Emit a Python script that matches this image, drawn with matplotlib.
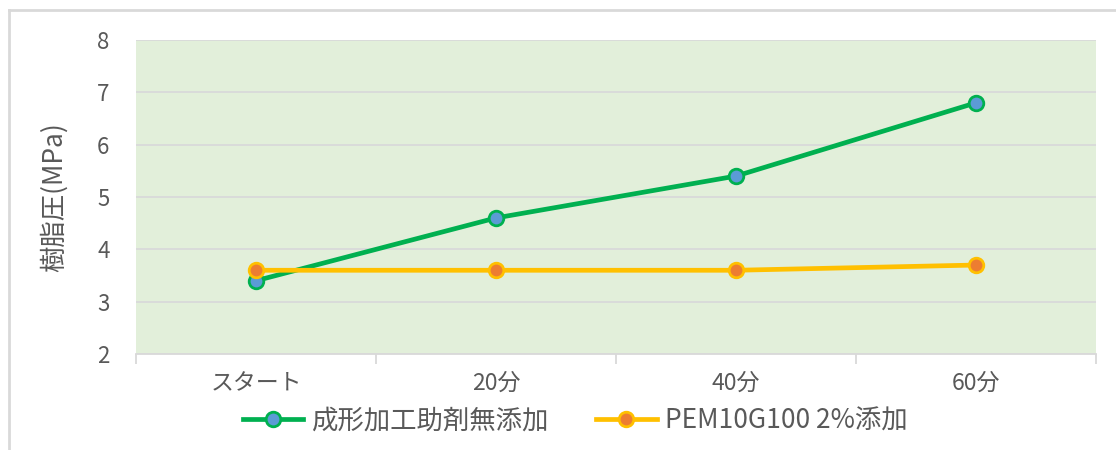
import matplotlib
matplotlib.use("Agg")
import matplotlib.pyplot as plt
from matplotlib.lines import Line2D

plt.rcParams['font.family'] = ['Noto Sans CJK JP', 'DejaVu Sans']

categories = ["スタート", "20分", "40分", "60分"]
series_names = ["成形加工助剤無添加", "PEM10G100 2%添加"]
no_additive = [3.4, 4.6, 5.4, 6.8]
pem_added = [3.6, 3.6, 3.6, 3.7]
y_label = "樹脂圧(MPa)"
y_ticks = [2, 3, 4, 5, 6, 7, 8]

text_color = "#595959"
grid_color = "#D9D9D9"

fig = plt.figure(figsize=(11.16, 4.5), dpi=100)
ax = fig.add_axes([136/1116, (450-354)/450, (1096-136)/1116, (354-40)/450])
ax.set_facecolor("#E2EFDA")

x = list(range(len(categories)))
ax.plot(x, no_additive, color="#00B050", lw=3.4, marker="o", ms=10.5,
        mfc="#5B9BD5", mec="#00B050", mew=2, label=series_names[0], zorder=3)
ax.plot(x, pem_added, color="#FFC000", lw=3.4, marker="o", ms=10.5,
        mfc="#ED7D31", mec="#FFC000", mew=2, label=series_names[1], zorder=3)

ax.set_xlim(-0.5, len(categories) - 0.5)
ax.set_ylim(2, 8)
ax.set_yticks(y_ticks)
ax.set_yticklabels([str(v) for v in y_ticks])
ax.yaxis.grid(True, color=grid_color, lw=1.3)
ax.set_axisbelow(True)
ax.set_xticks(x)
ax.set_xticklabels(categories)
ax.set_xticks([i - 0.5 for i in range(len(categories) + 1)], minor=True)
ax.tick_params(axis='x', which='major', length=0, pad=13, labelsize=16.5, labelcolor=text_color)
ax.tick_params(axis='x', which='minor', length=7, width=1.3, color=grid_color)
ax.tick_params(axis='y', length=0, pad=19, labelsize=16, labelcolor=text_color)
for s in ["top", "right", "left"]:
    ax.spines[s].set_visible(False)
ax.spines["bottom"].set_color(grid_color)
ax.spines["bottom"].set_linewidth(1.3)

ax.set_ylabel(y_label, fontsize=19, color=text_color)
ax.yaxis.set_label_coords((68 - 136) / 960, 0.5)

leg = fig.legend(loc="center", bbox_to_anchor=(575/1116, 1 - 421/450), ncol=2,
                 frameon=False, fontsize=19, handlelength=2.3, columnspacing=1.8,
                 handletextpad=0.3, labelcolor=text_color)

# outer border
fig.add_artist(Line2D([9/1116, 1.0], [1 - 10/450, 1 - 10/450], transform=fig.transFigure,
                      color="#D9D9D9", lw=2))
fig.add_artist(Line2D([9/1116, 9/1116], [0, 1 - 10/450], transform=fig.transFigure,
                      color="#D9D9D9", lw=2))

fig.savefig("out.png", dpi=100)
